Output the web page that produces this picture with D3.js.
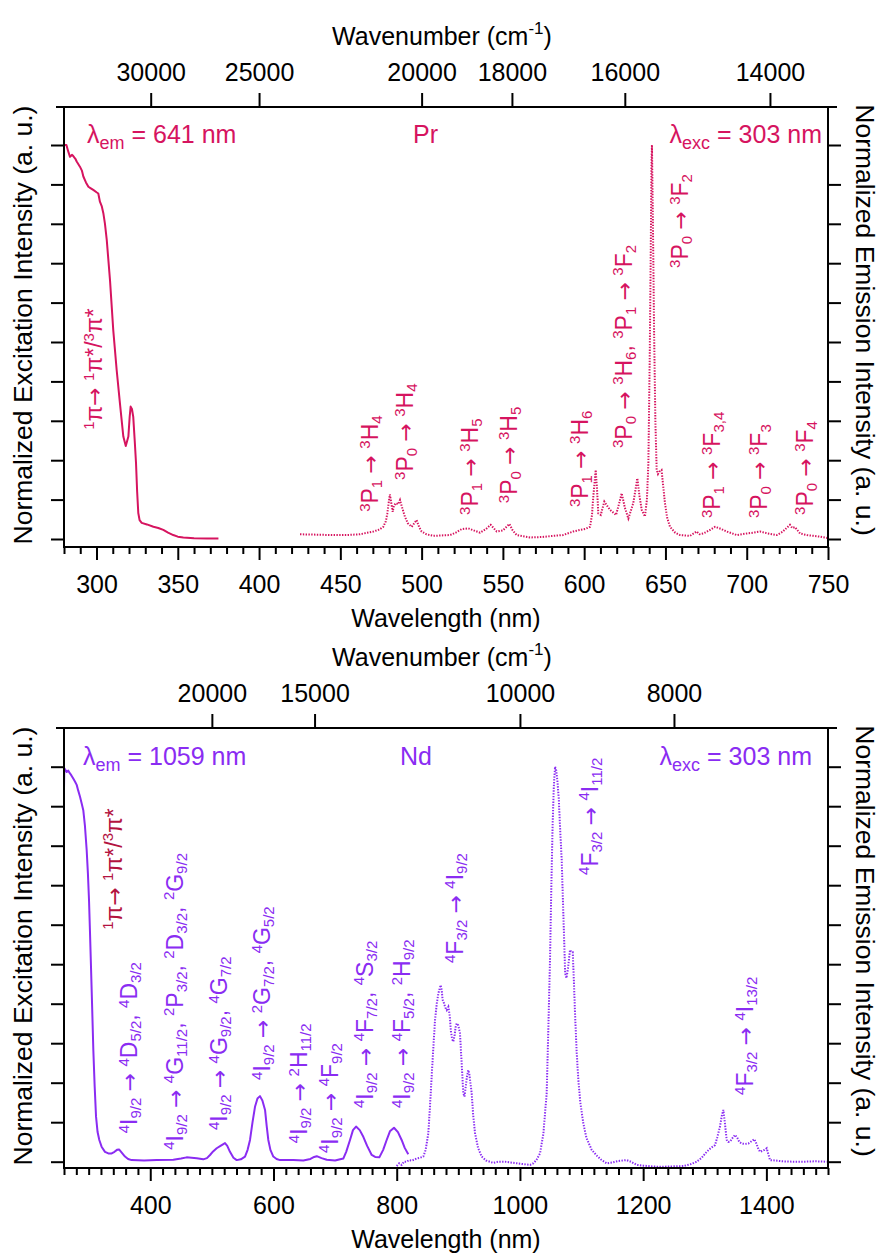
<!DOCTYPE html>
<html><head><meta charset="utf-8">
<script src="https://cdn.jsdelivr.net/npm/d3@7"></script>
<style>body{margin:0;background:#fff}svg{display:block}</style>
</head><body><svg id="c" width="880" height="1255"></svg>
<script>
// ---------------- DATA ----------------
// Pr panel
const prExcWl = [280,281.5,282.5,283.7,285,285.7,287,287.8,289.8,291,291.9,293.5,295,296.5,298,300,301.1,302.1,303.2,304.2,305.2,306.3,308.3,310.3,312.4,314.4,316.5,318,319.6,320.4,321,321.8,322.6,323.5,324.3,325,325.7,326.5,327.8,331,335,338,341.1,344,347.2,350,353.4,360,368,375];
const prExcI  = [1.0,1.0,0.985,0.970,0.975,0.972,0.965,0.958,0.945,0.935,0.920,0.905,0.894,0.890,0.886,0.880,0.877,0.856,0.845,0.827,0.800,0.759,0.657,0.530,0.429,0.345,0.260,0.236,0.260,0.31,0.336,0.33,0.310,0.25,0.193,0.12,0.066,0.048,0.041,0.037,0.031,0.028,0.023,0.016,0.010,0.006,0.004,0.002,0.001,0.001];
const prEmWl = [425.2,435,445,453.9,462,470.3,474,476.4,478,478.9,480,480.5,481.2,482.2,483,484.2,485.5,486.7,488,489.7,491.5,493.9,495.5,496.9,498.5,500,503,507.2,512,517.5,521,524.6,528.7,532,535.9,539.5,542.5,546.2,550,554,556,558.5,566.7,574,581,587,593.3,597.4,601,603.6,604.8,605.6,607.1,608,608.7,610.2,612.4,614,615.9,619.6,621.5,623.1,625,627.2,630.2,632.7,634,635.4,637.4,638.6,639.5,640.3,640.9,641.4,641.7,642.3,643,643.8,644.6,645.4,646.2,647.6,649.7,651,652.8,656,658.9,662,665.1,669.2,671,673.3,677,680.5,684,687.7,693.9,700,704,708.2,713,718.5,722,726.6,728,729.7,732.8,737,741,745,750];
const prEmI  = [0.012,0.011,0.010,0.010,0.012,0.019,0.024,0.031,0.045,0.065,0.10,0.113,0.095,0.069,0.085,0.091,0.088,0.099,0.08,0.057,0.04,0.031,0.04,0.048,0.03,0.019,0.012,0.008,0.009,0.010,0.016,0.025,0.027,0.022,0.016,0.025,0.036,0.019,0.022,0.038,0.022,0.010,0.004,0.005,0.008,0.010,0.019,0.023,0.026,0.031,0.06,0.107,0.175,0.12,0.065,0.061,0.095,0.085,0.074,0.061,0.09,0.116,0.08,0.052,0.091,0.154,0.11,0.074,0.057,0.10,0.192,0.45,0.70,0.95,1.0,0.80,0.53,0.30,0.175,0.165,0.171,0.175,0.091,0.055,0.031,0.016,0.010,0.009,0.008,0.019,0.012,0.014,0.022,0.031,0.026,0.019,0.010,0.014,0.016,0.019,0.014,0.010,0.018,0.036,0.028,0.030,0.014,0.010,0.008,0.006,0.002];
// Nd panel
const ndExcWl = [260,260.5,264.3,267,269.7,272,275,278,280.6,283,286,289,291.3,294,296.8,298.8,300.6,302.2,303.8,305.7,307.6,309.8,312,314.5,317.3,321,326.5,332,337.4,342,346,349.3,353,359,364,369.8,390,410.4,437.4,450,459,467,475.4,486,492,497,502,507.8,514,521.3,525,529.4,535,540.3,547,553.8,558,561.9,566,570,574,578.1,582,586.3,589,591.6,595,599.7,605,610.6,632.2,648.4,660,666,670.2,678,686.4,700,713.3,718,724.2,729,734,740,745.8,752,759.4,765,771.8,778,783.7,789,795.6,802,808,813,818.8];
const ndExcI  = [0.945,0.996,0.987,0.99,0.983,0.978,0.970,0.962,0.954,0.94,0.924,0.905,0.890,0.85,0.789,0.73,0.662,0.58,0.494,0.39,0.283,0.19,0.114,0.075,0.055,0.038,0.025,0.021,0.021,0.025,0.030,0.031,0.024,0.013,0.007,0.004,0.003,0.004,0.005,0.008,0.011,0.010,0.009,0.006,0.009,0.017,0.026,0.034,0.040,0.047,0.040,0.025,0.010,0.004,0.006,0.013,0.030,0.055,0.10,0.139,0.160,0.166,0.155,0.131,0.09,0.055,0.03,0.013,0.007,0.004,0.004,0.003,0.007,0.012,0.014,0.009,0.005,0.003,0.008,0.025,0.055,0.080,0.089,0.080,0.063,0.04,0.017,0.012,0.011,0.03,0.055,0.077,0.086,0.075,0.055,0.035,0.019];
const ndEmWl = [800,804,808,812,816.2,820,825,832.4,838,843.2,847,851.3,854,856.7,859.5,862.2,865,867.6,870,871.4,873,874.5,876.8,879,881.2,883.8,886,888,890,891.9,894,895.5,897.3,900,902.7,905,908.1,910,912,914,916.2,918,921.7,924,927.1,932,937.9,945,956.8,965,975.8,985,994.8,1005,1016.4,1022,1027,1032.6,1038,1043.4,1046,1048.8,1051,1053,1055,1057,1059,1061,1063,1065.3,1067.8,1070,1072,1073.4,1075.5,1078,1081.3,1083.5,1085.7,1087.5,1089.4,1092,1094.8,1098,1102.9,1108,1116.5,1125,1132,1140.8,1150,1160,1173.3,1180,1189.5,1200,1215,1227.3,1245,1265.2,1278,1286.9,1295,1303.1,1310,1316.6,1320,1324.7,1327.5,1330.1,1332.5,1335.6,1338,1341,1345,1349.1,1353,1356,1359.9,1365,1370.7,1376,1380.5,1384,1387,1389.7,1393,1397,1400.5,1403,1405.9,1415,1425,1443.7,1460,1480,1498];
const ndEmI  = [-0.011,-0.004,-0.008,0.0,0.0,0.004,0.003,0.008,0.010,0.013,0.03,0.072,0.14,0.215,0.29,0.359,0.40,0.426,0.44,0.447,0.435,0.41,0.401,0.39,0.384,0.392,0.37,0.33,0.31,0.304,0.32,0.34,0.350,0.345,0.325,0.26,0.173,0.165,0.19,0.215,0.232,0.22,0.173,0.12,0.072,0.035,0.013,0.003,-0.003,0.0,0.0,-0.002,-0.004,-0.006,-0.008,-0.004,0.005,0.021,0.07,0.173,0.33,0.511,0.70,0.85,0.95,1.0,0.99,0.96,0.92,0.84,0.764,0.65,0.55,0.477,0.465,0.49,0.536,0.53,0.53,0.46,0.376,0.28,0.207,0.15,0.097,0.06,0.030,0.015,0.005,-0.004,-0.002,0.002,0.004,0.0,-0.008,-0.010,-0.012,-0.013,-0.012,-0.011,-0.006,0.0,0.01,0.025,0.035,0.042,0.06,0.089,0.115,0.131,0.10,0.055,0.05,0.051,0.06,0.068,0.06,0.05,0.046,0.045,0.046,0.052,0.057,0.045,0.032,0.025,0.027,0.03,0.034,0.02,0.004,0.003,0.001,0.0,0.0,0.001,0.0];

// tick values
const prWlMajor = [300,350,400,450,500,550,600,650,700,750];
const prWnTicks = [30000,25000,20000,18000,16000,14000];
const ndWlMajor = [400,600,800,1000,1200,1400];
const ndWnTicks = [20000,15000,10000,8000];
const yTicks = [0,0.1,0.2,0.3,0.4,0.5,0.6,0.7,0.8,0.9,1.0];

// transition labels: markup {sup} [sub]; anchored at (wavelength, intensity)
const prNoteText = ["{1}π→ {1}π*/{3}π*","{3}P[1] → {3}H[4]","{3}P[0] → {3}H[4]","{3}P[1] → {3}H[5]","{3}P[0] → {3}H[5]","{3}P[1] → {3}H[6]","{3}P[0] → {3}H[6], {3}P[1] → {3}F[2]","{3}P[0] → {3}F[2]","{3}P[1] → {3}F[3,4]","{3}P[0] → {3}F[3]","{3}P[0] → {3}F[4]"];
const prNoteWl = [303.4,473.2,494.7,534.7,558.7,602.4,629.4,663.9,683.6,712.5,740.8];
const prNoteI  = [0.277,0.069,0.150,0.061,0.091,0.081,0.231,0.688,0.053,0.053,0.061];
const ndNoteText = ["{1}π→ {1}π*/{3}π*","{4}I[9/2] → {4}D[5/2], {4}D[3/2]","{4}I[9/2] → {4}G[11/2], {2}P[3/2], {2}D[3/2], {2}G[9/2]","{4}I[9/2] → {4}G[9/2], {4}G[7/2]","{4}I[9/2] → {2}G[7/2], {4}G[5/2]","{4}I[9/2] → {2}H[11/2]","{4}I[9/2] → {4}F[9/2]","{4}I[9/2] → {4}F[7/2], {4}S[3/2]","{4}I[9/2] → {4}F[5/2], {2}H[9/2]","{4}F[3/2] → {4}I[9/2]","{4}F[3/2] → {4}I[11/2]","{4}F[3/2] → {4}I[13/2]"];
const ndNoteWl = [354.1,378.5,453.1,524.6,594.4,654.4,704.7,761.5,821.6,907.6,1126.7,1378.3];
const ndNoteI  = [0.587,0.072,0.030,0.080,0.207,0.047,0.022,0.136,0.136,0.503,0.726,0.169];

// ---------------- DRAWING ----------------
const FONT = '"Liberation Sans", Arial, Helvetica, sans-serif';
const svg = d3.select("#c").style("font-family", FONT);
const PR = "#d6145f", ND = "#8a2cf2", DARKRED = "#b3133f";

function richText(sel, str, size, supSize, supRise, subDrop) {
  const re = /\{([^}]*)\}|\[([^\]]*)\]|(→)|([^{\[→]+)/g;
  let m, cur = 0;
  while ((m = re.exec(str)) !== null) {
    let txt, target, fs, arrow = false;
    if (m[1] !== undefined) { txt = m[1]; target = -supRise; fs = supSize; }
    else if (m[2] !== undefined) { txt = m[2]; target = subDrop; fs = supSize; }
    else if (m[3] !== undefined) { txt = m[3]; target = 0; fs = size * 0.95; arrow = true; }
    else { txt = m[4]; target = 0; fs = size; }
    const ts = sel.append("tspan").attr("dy", target - cur).attr("font-size", fs).text(txt);
    if (arrow) ts.attr("font-family", '"DejaVu Sans", sans-serif');
    cur = target;
  }
}

function panel(cfg) {
  const g = svg.append("g");
  const L = 64, R = 828;
  const x = d3.scaleLinear().domain(cfg.xDomain).range([L, R]);
  const y = d3.scaleLinear().domain([0, 1]).range([cfg.y0, cfg.y1]);
  const T = cfg.top, B = cfg.bottom;

  // curves
  const line = d3.line().x(d => x(d[0])).y(d => y(d[1]));
  const exc = d3.zip(cfg.excWl, cfg.excI);
  const em = d3.zip(cfg.emWl, cfg.emI);
  g.append("path").datum(exc).attr("d", line).attr("fill", "none")
    .attr("stroke", cfg.color).attr("stroke-width", 2).attr("stroke-linejoin", "round");
  g.append("path").datum(em).attr("d", line).attr("fill", "none")
    .attr("stroke", cfg.color).attr("stroke-width", 2).attr("stroke-dasharray", "1.4,1.4");

  // axes
  function style(a) {
    a.select(".domain").remove();
    a.selectAll(".tick line").attr("stroke", "#000").attr("stroke-width", 2);
    a.selectAll(".tick text").attr("font-size", 25).attr("fill", "#000").attr("font-family", FONT);
  }
  g.append("g").attr("transform", `translate(0,${B})`)
    .call(d3.axisBottom(x).tickValues(cfg.minor).tickSize(7).tickFormat(""))
    .call(style);
  g.append("g").attr("transform", `translate(0,${B})`)
    .call(d3.axisBottom(x).tickValues(cfg.major).tickSize(13).tickPadding(15).tickFormat(d3.format("d")))
    .call(style);
  g.append("g").attr("transform", `translate(0,${T})`)
    .call(d3.axisTop(x).tickValues(cfg.wn.map(w => 1e7 / w)).tickSize(14).tickPadding(12)
      .tickFormat(v => String(Math.round(1e7 / v / 10) * 10)))
    .call(style);
  g.append("g").attr("transform", `translate(${L},0)`)
    .call(d3.axisLeft(y).tickValues(yTicks).tickSize(13).tickFormat("")).call(style);
  g.append("g").attr("transform", `translate(${R},0)`)
    .call(d3.axisRight(y).tickValues(yTicks).tickSize(13).tickFormat("")).call(style);

  // frame
  const fr = g.append("g").attr("stroke", "#000").attr("stroke-width", 2).attr("stroke-linecap", "square");
  fr.append("line").attr("x1", L).attr("x2", L).attr("y1", T).attr("y2", B);
  fr.append("line").attr("x1", R).attr("x2", R).attr("y1", T).attr("y2", B);
  fr.append("line").attr("x1", L - 7).attr("x2", R + 8).attr("y1", T).attr("y2", T);
  fr.append("line").attr("x1", L).attr("x2", R).attr("y1", B).attr("y2", B);

  // axis titles
  g.append("text").attr("x", 446).attr("y", B + 80).attr("text-anchor", "middle")
    .attr("font-size", 25).text("Wavelength (nm)");
  const wt = g.append("text").attr("x", 442).attr("y", T - 62).attr("text-anchor", "middle").attr("font-size", 25);
  richText(wt, "Wavenumber (cm{-1})", 25, 17, 11, 0);
  const mid = (T + B) / 2;
  g.append("text").attr("transform", `translate(32,${mid - 2}) rotate(-90)`).attr("text-anchor", "middle")
    .attr("font-size", 26.5).text("Normalized Excitation Intensity (a. u.)");
  g.append("text").attr("transform", `translate(856,${mid - 7}) rotate(90)`).attr("text-anchor", "middle")
    .attr("font-size", 26.5).text("Normalized Emission Intensity (a. u.)");

  // headers
  const h1 = g.append("text").attr("x", cfg.emX).attr("y", cfg.headY).attr("fill", cfg.color).attr("font-size", 25);
  richText(h1, "λ[em] = " + cfg.emNm + " nm", 25, 18, 0, 6);
  g.append("text").attr("x", cfg.nameX).attr("y", cfg.headY).attr("fill", cfg.color).attr("font-size", 25).text(cfg.name);
  const h3 = g.append("text").attr("x", cfg.excX).attr("y", cfg.headY).attr("fill", cfg.color)
    .attr("font-size", 25).attr("text-anchor", "end");
  richText(h3, "λ[exc] = 303 nm", 25, 18, 0, 6);

  // transition labels
  cfg.noteText.forEach((s, i) => {
    const col = (i === 0 && cfg.piColor) ? cfg.piColor : cfg.color;
    const t = g.append("text")
      .attr("transform", `translate(${x(cfg.noteWl[i])},${y(cfg.noteI[i])}) rotate(-90)`)
      .attr("fill", col).attr("font-size", 23);
    richText(t, s, 23, 15, 8.5, 4);
  });
}

panel({
  xDomain: [280, 750], y0: 539, y1: 145, top: 107, bottom: 547,
  color: PR, excWl: prExcWl, excI: prExcI, emWl: prEmWl, emI: prEmI,
  major: prWlMajor, minor: d3.range(280, 751, 10).filter(v => v % 50 !== 0),
  wn: prWnTicks, emNm: "641", name: "Pr", emX: 87, nameX: 413, excX: 822, headY: 143,
  noteText: prNoteText, noteWl: prNoteWl, noteI: prNoteI
});
panel({
  xDomain: [260, 1500], y0: 1161.7, y1: 766.7, top: 728, bottom: 1168,
  color: ND, excWl: ndExcWl, excI: ndExcI, emWl: ndEmWl, emI: ndEmI,
  major: ndWlMajor, minor: d3.range(260, 1501, 20).filter(v => v % 200 !== 0),
  wn: ndWnTicks, emNm: "1059", name: "Nd", emX: 83, nameX: 400, excX: 812, headY: 765,
  noteText: ndNoteText, noteWl: ndNoteWl, noteI: ndNoteI, piColor: DARKRED
});
</script></body></html>
